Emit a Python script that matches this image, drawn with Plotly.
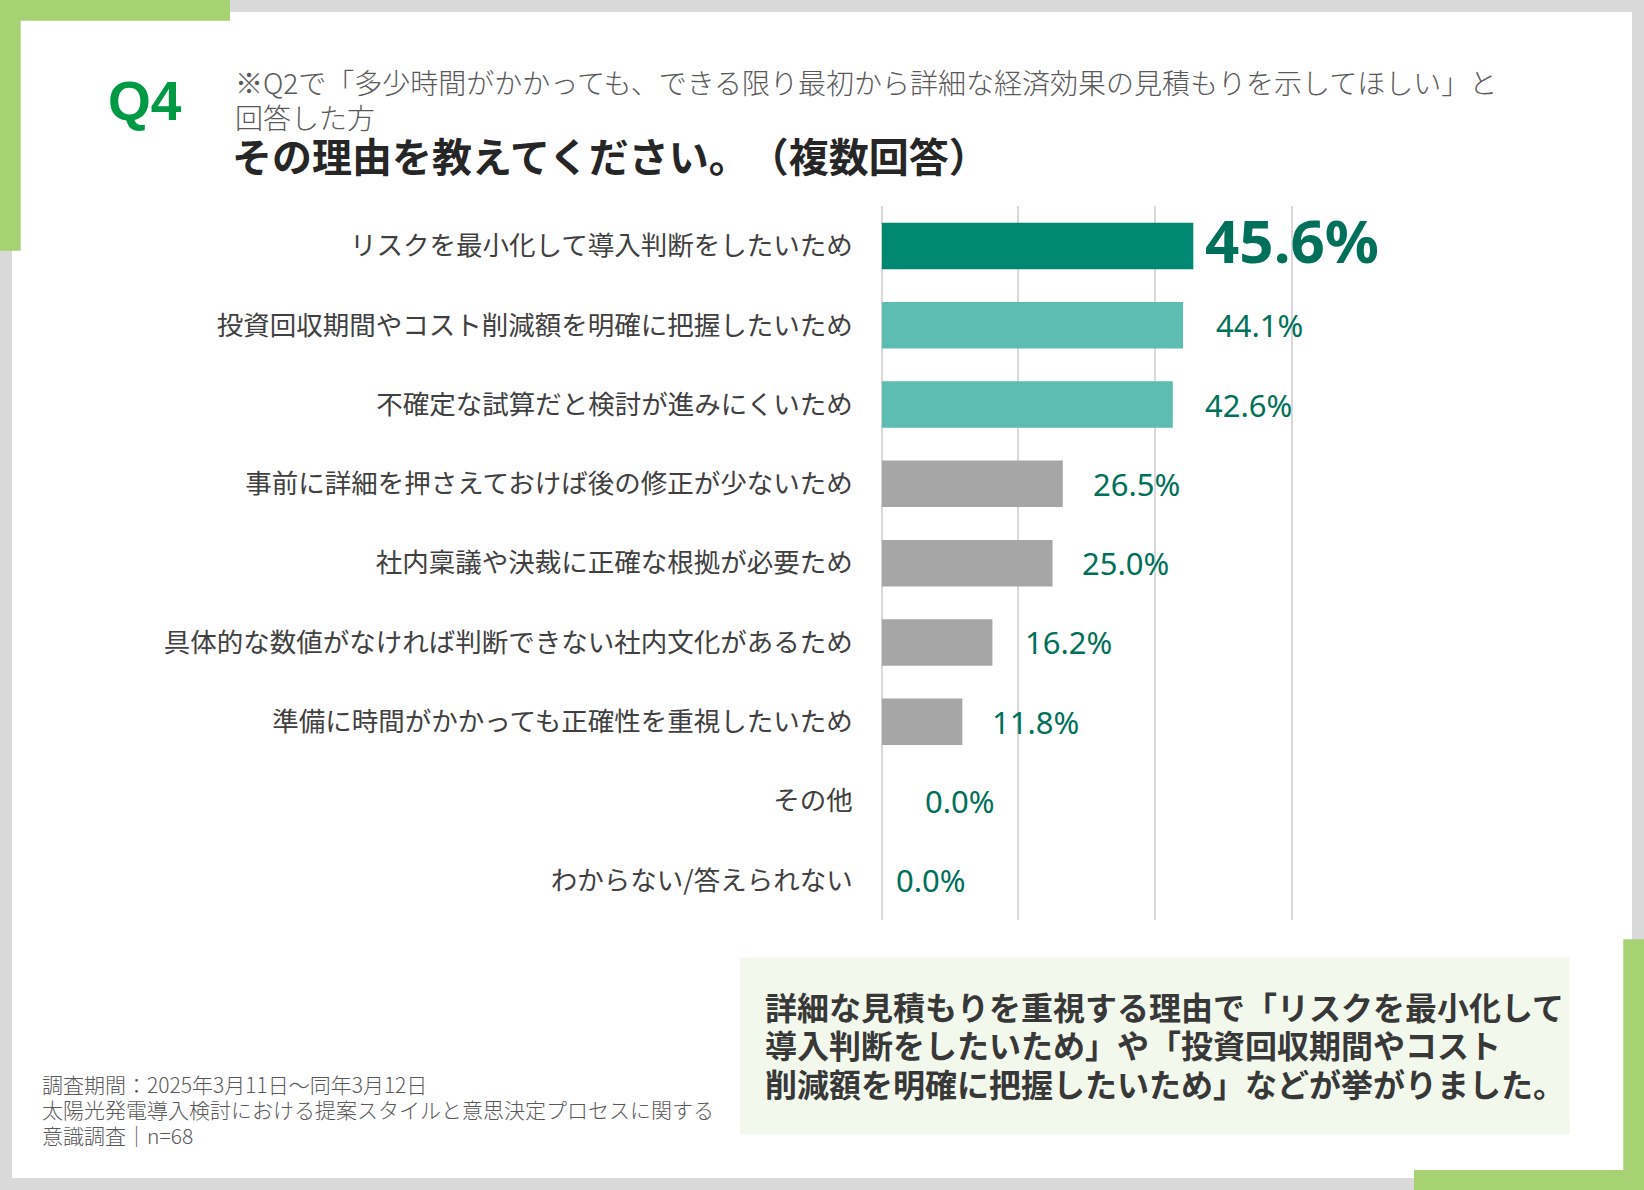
import plotly.graph_objects as go

W, H = 1644, 1190

# ---------------- data ----------------
categories = [
    "リスクを最小化して導入判断をしたいため",
    "投資回収期間やコスト削減額を明確に把握したいため",
    "不確定な試算だと検討が進みにくいため",
    "事前に詳細を押さえておけば後の修正が少ないため",
    "社内稟議や決裁に正確な根拠が必要ため",
    "具体的な数値がなければ判断できない社内文化があるため",
    "準備に時間がかかっても正確性を重視したいため",
    "その他",
    "わからない/答えられない",
]
values = [45.6, 44.1, 42.6, 26.5, 25.0, 16.2, 11.8, 0.0, 0.0]
value_labels = ["45.6%", "44.1%", "42.6%", "26.5%", "25.0%", "16.2%", "11.8%", "0.0%", "0.0%"]
x_ticks = [0, 20, 40, 60]

q_label = "Q4"
subtitle_lines = [
    "※Q2で「多少時間がかかっても、できる限り最初から詳細な経済効果の見積もりを示してほしい」と",
    "回答した方",
]
title_text = "その理由を教えてください。（複数回答）"
footnote_lines = [
    "調査期間：2025年3月11日～同年3月12日",
    "太陽光発電導入検討における提案スタイルと意思決定プロセスに関する",
    "意識調査｜n=68",
]
callout_lines = [
    "詳細な見積もりを重視する理由で「リスクを最小化して",
    "導入判断をしたいため」や「投資回収期間やコスト",
    "削減額を明確に把握したいため」などが挙がりました。",
]

# ---------------- styles ----------------
bar_colors = ["#008873", "#5DBDB2", "#5DBDB2", "#A6A6A6", "#A6A6A6",
              "#A6A6A6", "#A6A6A6", "#A6A6A6", "#A6A6A6"]
label_xshift = [10, 31, 30, 28, 27, 31, 28, 41, 12]
label_size = [60, 31, 31, 31, 31, 31, 31, 31, 31]
label_bold = [True, False, False, False, False, False, False, False, False]
label_yshift = [6, 0, 0, 0, 0, 0, 0, 0, 0]

GREEN = "#A6D273"
LABEL_COLOR = "#00705A"
JP = "Noto Sans CJK JP"
PX_PER_UNIT = 410 / 60.0
X_MAX = 61


def fx(p):
    return p / W


def fy(p):
    return 1 - p / H


fig = go.Figure()
fig.add_trace(go.Bar(
    x=values, y=categories, orientation="h",
    marker=dict(color=bar_colors, line=dict(width=0)),
    hoverinfo="skip",
))

shapes = []
# white panel
shapes.append(dict(type="rect", xref="paper", yref="paper",
                   x0=fx(12), x1=fx(1632), y0=fy(1178), y1=fy(12),
                   fillcolor="white", line=dict(width=0), layer="below"))
# green corner accents
for (x0, y0, x1, y1) in [(0, 0, 230, 20.7), (0, 0, 20.7, 250.7),
                         (1623.3, 939.3, 1644, 1190), (1414, 1170, 1644, 1190)]:
    shapes.append(dict(type="rect", xref="paper", yref="paper",
                       x0=fx(x0), x1=fx(x1), y0=fy(y1), y1=fy(y0),
                       fillcolor=GREEN, line=dict(width=0), layer="below"))
# callout box
shapes.append(dict(type="rect", xref="paper", yref="paper",
                   x0=fx(740), x1=fx(1569.7), y0=fy(1134.3), y1=fy(957.3),
                   fillcolor="#F3F8ED", line=dict(width=0), layer="below"))

annotations = []
# value labels
for i, (v, t) in enumerate(zip(values, value_labels)):
    annotations.append(dict(
        x=v, y=categories[i], xref="x", yref="y", text=t, showarrow=False,
        xanchor="left", yanchor="middle", xshift=label_xshift[i], yshift=label_yshift[i],
        font=dict(family="Noto Sans", size=label_size[i], color=LABEL_COLOR,
                  weight="bold" if label_bold[i] else "normal"),
    ))

# Q4
annotations.append(dict(x=fx(106), y=fy(101), xref="paper", yref="paper", text=q_label,
                        showarrow=False, xanchor="left", yanchor="middle",
                        font=dict(family="Liberation Sans", size=55, color="#009944", weight="bold")))
# subtitle
for txt, cy in zip(subtitle_lines, [82, 117]):
    annotations.append(dict(x=fx(233), y=fy(cy), xref="paper", yref="paper", text=txt,
                            showarrow=False, xanchor="left", yanchor="middle",
                            font=dict(family=JP, size=28, color="#595959", weight=300)))
# title
annotations.append(dict(x=fx(240), y=fy(155), xref="paper", yref="paper", text=title_text,
                        showarrow=False, xanchor="left", yanchor="middle",
                        font=dict(family=JP, size=40, color="#262626", weight="bold")))
# footnote
for txt, cy in zip(footnote_lines, [1084, 1109, 1135]):
    annotations.append(dict(x=fx(40), y=fy(cy), xref="paper", yref="paper", text=txt,
                            showarrow=False, xanchor="left", yanchor="middle",
                            font=dict(family=JP, size=21, color="#595959", weight=300)))
# callout text
for txt, cy in zip(callout_lines, [1005.8, 1044, 1082.5]):
    annotations.append(dict(x=fx(763), y=fy(cy), xref="paper", yref="paper", text=txt,
                            showarrow=False, xanchor="left", yanchor="middle",
                            font=dict(family=JP, size=32, color="#383838", weight="bold")))

fig.update_layout(
    width=W, height=H,
    margin=dict(l=0, r=0, t=0, b=0),
    paper_bgcolor="#D9D9D9",
    plot_bgcolor="rgba(0,0,0,0)",
    showlegend=False,
    bargap=0.414,
    shapes=shapes,
    annotations=annotations,
    xaxis=dict(
        domain=[fx(881.7), fx(881.7 + X_MAX * PX_PER_UNIT)],
        range=[0, X_MAX],
        tickvals=x_ticks,
        showticklabels=False,
        showgrid=True, gridcolor="#D9D9D9", gridwidth=1.5,
        zeroline=True, zerolinecolor="#D9D9D9", zerolinewidth=1.5,
        showline=False, fixedrange=True,
    ),
    yaxis=dict(
        domain=[fy(920), fy(206.3)],
        autorange="reversed",
        showgrid=False, zeroline=False, showline=False,
        ticks="", ticklabelstandoff=28,
        tickfont=dict(family=JP, size=26.5, color="#404040"),
        fixedrange=True,
    ),
)

post = (
    "document.body.style.margin='0';document.body.style.overflow='hidden';"
    "var s=document.createElement('style');"
    "s.innerHTML='text{text-spacing-trim:space-all;}';"
    "document.head.appendChild(s);"
)
fig.write_html("out.html", config={"displayModeBar": False}, post_script=post)
